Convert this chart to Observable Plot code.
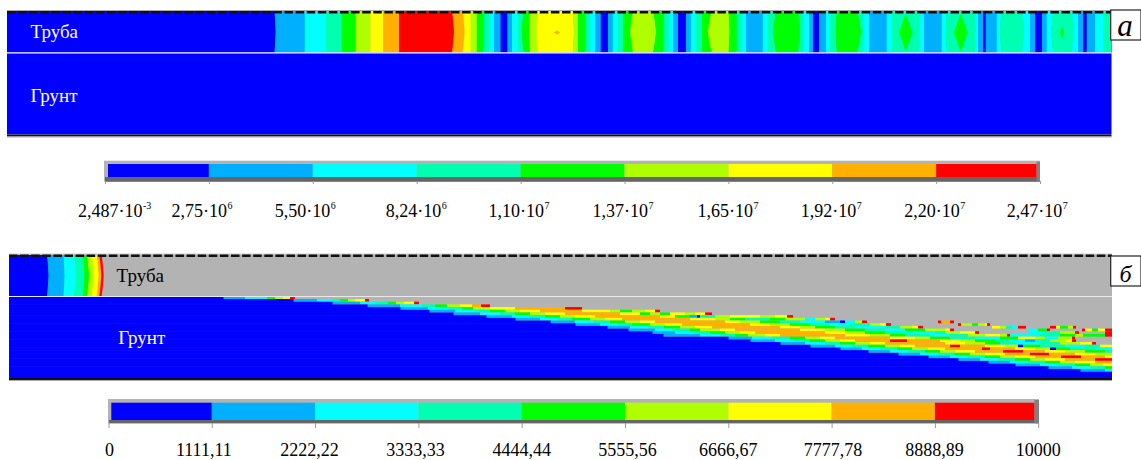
<!DOCTYPE html>
<html><head><meta charset="utf-8">
<style>html,body{margin:0;padding:0;background:#fff}svg{display:block}</style>
<script src="https://cdn.jsdelivr.net/npm/d3@7"></script>
<script src="https://cdn.jsdelivr.net/npm/@observablehq/plot@0.6"></script>
</head><body><div id="chart"></div>
<script>
const levelColors = ["#0000ff","#00b0ff","#00ffff","#00ffb0","#00ff00","#b0ff00","#ffff00","#ffb000","#ff0000"];

// Panel a: stress bands along the pipe
const pipeAEdges = [7,274.5,304.7,325.8,341.8,355.6,370.2,383.3,399,452,462.5,470.5,476.7,483.6,489,494,500.5,507.3,512,518,523.6,530,537.5,572.7,578,585,590,595,600.7,608,612.7,617.7,623,633,653,663,668.7,673,678,686,690.7,696,701.7,711.7,728.5,736.7,741.7,746,762.7,768,776,798,803,809,813,819,826,830,836.7,857,863,869,886.7,892,919,924,941.7,946.7,975,978,983,985.7,996.7,1001.7,1021.7,1030,1035,1042,1046.7,1053,1071.7,1078,1083,1086.7,1095,1103,1111];
const pipeALevels = [0,1,2,3,4,5,6,7,8,7,6,5,4,3,2,1,0,1,2,3,4,5,6,5,4,3,2,1,0,1,2,3,4,5,4,3,2,1,0,1,2,3,4,5,4,3,2,1,2,3,4,3,2,1,0,1,2,3,4,3,2,1,2,3,2,1,2,3,2,1,0,1,2,3,2,1,0,1,2,3,2,1,0,1,2,3];
const pipeABulge = [0,1,0,0,0,0,0,0,0,2,2,0,0,0,0,0,0,0,0,0,-2,-1,-1,1,0,0,0,0,0,0,0,0,0,-3,3,1,0,0,0,0,0,0,0,-4,1,0,0,0,0,0,-3,2,0,0,0,0,0,0,-1,4,0,0,0,0,0,0,0,-1,0,0,0,0,0,-2,2,0,0,0,0,-2,2,0,0,0,0,0,0];
// Peak islands inside panel a: centre, half width, half height, level
const islandCentre = [905.7,960.7,1062,557];
const islandHalfW = [6.7,6.7,2,3];
const islandHalfH = [19,19,6,2];
const islandLevel = [4,4,4,7];

// Panel b: pipe bands at the wave front
const pipeBEdges = [9,47,63.5,74,82.5,87,91.7,96.7,99.3,101.7];
const pipeBLevels = [0,1,2,3,4,5,6,7,8];
const pipeBBulge = [0,1.5,1,1.5,2,2,2,2,2,2];

// Panel b: soil element rows, each as x, level, x, level, ..., end x
const soilRows = [
 [[223,1,245,2,267,4,275,5,283,6,290,8,295]],
 [[293,1,317,2,332,3,340,4,348,5,355,6,365,8,369]],
 [[332,1,360,2,375,3,388,4,396,5,404,6,414,8,419]],
 [[367,1,400,2,422,3,435,4,447,5,460,6,472,7,481,8,490]],
 [[400,1,428,2,449,3,462,4,473,5,490,6,515,7,565,8,582]],
 [[429,1,455,2,475,3,490,4,505,5,520,6,540,7,582,6,610,5,620,4,632,5,645,6,655,8,660]],
 [[453,1,480,2,500,3,515,4,530,5,545,6,565,7,620,6,640,4,650,5,660,4,670,6,685,5,695,6,705,8,712]],
 [[486,1,512,2,530,3,545,4,560,5,575,6,595,7,660,6,675,4,690,1,697,0,700,3,715,5,730,6,760,5,775,6,787,8,793]],
 [[515,1,540,2,558,3,572,4,590,5,605,6,622,7,690,6,715,5,730,4,745,3,770,4,785,5,805,2,815,5,825,6,830,8,835]],
 [[550,1,575,2,593,3,610,4,625,5,640,6,655,7,725,6,740,5,760,4,780,3,800,2,825,1,840,0,845,2,855,5,862,8,867],[938,8,941,7,950,8,954]],
 [[575,1,600,2,618,3,632,4,650,5,665,6,682,7,750,6,770,5,790,4,810,3,830,2,850,3,870,5,880,6,886,8,891],[958,8,961,5,972,4,978,5,985,6,987,8,990]],
 [[607,1,630,2,648,3,664,4,680,5,695,6,712,7,780,6,800,5,815,4,835,3,855,2,885,3,900,5,912,6,918,8,923],[992,6,1000,5,1006,3,1012,2,1018,8,1026],[1050,8,1056,6,1060,4,1068,5,1073,8,1076]],
 [[628,1,655,2,672,3,690,4,700,5,720,6,735,7,800,6,825,5,845,4,865,3,885,2,905,4,925,5,945,6,950,8,954],[1028,2,1038,4,1047,8,1050],[1082,8,1085,6,1092,4,1098,6,1105,8,1112]],
 [[652,1,675,2,695,3,710,4,725,5,740,6,755,7,825,6,845,5,865,4,885,3,905,2,935,3,945,5,960,6,975,8,979],[1030,2,1046,3,1060,5,1075,8,1079],[1105,8,1112]],
 [[663,1,700,2,720,3,735,4,748,5,765,6,780,7,845,6,870,5,890,4,905,3,930,2,950,3,968,5,985,6,1000,5,1007,8,1010,2,1040,3,1060,4,1075,5,1083,4,1105,8,1112]],
 [[728,1,752,2,772,3,790,4,805,5,820,6,835,7,890,6,915,5,930,4,950,3,975,2,1000,4,1018,6,1035,5,1045,2,1058,5,1072,8,1075]],
 [[750,1,775,2,795,3,810,4,825,5,840,6,855,7,890,8,907,7,940,6,960,5,975,4,995,3,1010,2,1025,1,1035,3,1050,5,1065,6,1072,8,1076]],
 [[780,1,805,2,825,3,840,4,855,5,870,6,885,7,945,6,965,5,985,4,1000,3,1015,2,1040,3,1060,5,1080,6,1092,8,1096]],
 [[810,1,835,2,852,3,868,4,885,5,900,6,915,7,950,8,960,7,985,6,1005,5,1018,0,1023,4,1040,3,1065,2,1085,3,1100,6,1112]],
 [[840,1,862,2,880,3,897,4,912,5,928,6,945,7,982,8,990,7,1015,6,1035,5,1050,0,1056,4,1070,3,1095,2,1112]],
 [[868,1,890,2,908,3,925,4,940,5,955,6,975,7,1003,8,1023,7,1045,6,1065,5,1085,4,1105,3,1112]],
 [[898,1,920,2,938,3,955,4,970,5,985,6,1005,7,1030,8,1049,7,1075,6,1095,5,1112]],
 [[928,1,950,2,968,3,985,4,1000,5,1015,6,1035,7,1061,8,1081,7,1105,6,1112]],
 [[958,1,980,2,998,3,1015,4,1030,5,1045,6,1065,7,1095,8,1112]],
 [[988,1,1010,2,1028,3,1045,4,1060,5,1075,6,1095,7,1112]],
 [[1015,1,1040,2,1058,3,1075,4,1090,5,1103,6,1112]],
 [[1048,1,1072,2,1090,3,1105,4,1112]],
 [[1080,1,1105,2,1112]]
];

// Colour bars
const barALabels = ["2,487·10","2,75·10","5,50·10","8,24·10","1,10·10","1,37·10","1,65·10","1,92·10","2,20·10","2,47·10"];
const barAExponents = ["-3","6","6","6","7","7","7","7","7","7"];
const barBLabels = ["0","1111,11","2222,22","3333,33","4444,44","5555,56","6666,67","7777,78","8888,89","10000"];

// Layout
const W = 1141, H = 460;
const barA = {left:105, step:103.9, outer:[104,160.7,1040,181.7], inner:[108,164,1036.5,177], tickY:[181,184], labelY:216};
const barB = {left:108.5, step:103.3, outer:[108,399,1039,423.3], inner:[111.3,402.7,1034.4,420], tickY:[423,428], labelY:455};
const barALabelEnd = [37,17.5,17,24,23,23,24,23.5,23,21.6];
const barBLabelNudge = [0.5,-8.5,-6,-3.5,-0.5,2,-0.5,1,-1,-0.5];
const A = {left:7, right:1111.5, top:11, pipeBottom:52.4, bottom:134.4};
const B = {left:9, right:1112, top:255, pipeBottom:296, bottom:378};
const soilTop = 296.3, rowH = 2.69, seam = 0.5;
const bulgeProfile = [[0,0],[.25,.6],[.5,1],[.75,.6],[1,0]];
const labelFont = "Liberation Serif";

function bandPolys(edges, levels, bulges, y0, y1) {
  const out = [];
  levels.forEach((level, i) => bulgeProfile.forEach(([f, p]) => out.push({
    band:i, level, y:y0 + (y1 - y0) * f,
    x1:edges[i] + bulges[i] * p,
    x2:edges[i + 1] + bulges[i + 1] * p + (i < levels.length - 1 ? seam : 0)
  })));
  return out;
}
function islandPolys(yc) {
  const out = [];
  islandCentre.forEach((c, i) => [-1,0,1].forEach(s => out.push({
    band:i, level:islandLevel[i], y:yc + s * islandHalfH[i],
    x1:c - islandHalfW[i] * (1 - Math.abs(s)), x2:c + islandHalfW[i] * (1 - Math.abs(s))
  })));
  return out;
}
const soilRuns = [], soilBlue = [];
soilRows.forEach((segments, k) => {
  const y1 = soilTop + k * rowH, y2 = y1 + rowH;
  soilBlue.push({x1:B.left, x2:segments[0][0] + seam, y1, y2:y2 + seam});
  segments.forEach(s => {
    for (let i = 0; i + 2 < s.length; i += 2) soilRuns.push({x1:s[i], x2:s[i + 2], y1, y2, level:s[i + 1]});
  });
});
const soilBelow = {x1:B.left, x2:B.right, y1:soilTop + soilRows.length * rowH, y2:B.bottom};

const barRects = (bar) => levelColors.map((_, i) => ({
  level:i,
  x1: i === 0 ? bar.inner[0] : bar.left + i * bar.step,
  x2: i === 8 ? bar.inner[2] : bar.left + (i + 1) * bar.step,
  y1: bar.inner[1], y2: bar.inner[3]
}));
const barTicks = (bar) => d3.range(10).map(i => bar.left + i * bar.step);
const barFrame = (bar) => [
  Plot.rect([0],{x1:bar.outer[0],x2:bar.outer[2],y1:bar.outer[1],y2:bar.outer[3],fill:"#b3b3b3"}),
  Plot.rect([0],{x1:bar.outer[0]+1,x2:bar.outer[2],y1:bar.inner[3],y2:bar.outer[3],fill:"#666666"}),
  Plot.rect([0],{x1:bar.inner[2],x2:bar.outer[2],y1:bar.outer[1]+1,y2:bar.outer[3],fill:"#808080"}),
  Plot.rect(barRects(bar),{x1:"x1",x2:"x2",y1:"y1",y2:"y2",fill:"level"}),
  Plot.ruleX(barTicks(bar),{y1:bar.tickY[0],y2:bar.tickY[1],stroke:"#999",strokeWidth:1})
];
const tagBox = (x1,y1,x2,y2,txt,tx,ty,size) => [
  Plot.rect([0],{x1,x2,y1,y2,fill:"#fff",stroke:"#222",strokeWidth:1.2}),
  Plot.text([txt],{x:tx,y:ty,text:d=>d,fontFamily:labelFont,fontStyle:"italic",fontSize:size,fill:"#000",textAnchor:"middle",lineAnchor:"bottom"})
];
const note = (txt,x,y,fill) => Plot.text([txt],{x,y,text:d=>d,fill,fontFamily:labelFont,fontSize:19,textAnchor:"start",lineAnchor:"bottom"});

const chart = Plot.plot({
  width:W, height:H, margin:0,
  style:{background:"#fff", fontFamily:labelFont},
  x:{domain:[0,W], range:[0,W], axis:null},
  y:{domain:[0,H], range:[0,H], axis:null},
  color:{type:"ordinal", domain:d3.range(9), range:levelColors},
  marks:[
    // panel a
    Plot.rect([0],{x1:A.left,x2:A.right,y1:A.top,y2:A.bottom,fill:levelColors[0]}),
    Plot.areaX(bandPolys(pipeAEdges,pipeALevels,pipeABulge,A.top,A.pipeBottom),{x1:"x1",x2:"x2",y:"y",z:"band",fill:"level"}),
    Plot.areaX(islandPolys(32.5),{x1:"x1",x2:"x2",y:"y",z:"band",fill:"level"}),
    Plot.ruleY([10],{x1:A.left,x2:A.right,stroke:"#aaa",strokeWidth:1}),
    Plot.ruleY([11.8],{x1:A.left,x2:A.right,stroke:"#111",strokeWidth:2.6,strokeDasharray:"8.5 2.6"}),
    Plot.ruleY([A.pipeBottom],{x1:A.left,x2:A.right,stroke:"#fff",strokeWidth:1.2}),
    Plot.ruleY([135],{x1:A.left,x2:A.right,stroke:"#111",strokeWidth:1.8}),
    Plot.ruleY([136.5],{x1:A.left,x2:A.right,stroke:"#aaa",strokeWidth:1}),
    note("Труба",30,37.5,"#fff"),
    note("Грунт",30,101,"#fff"),
    ...tagBox(1110.7,10,1141,40,"а",1124.5,35.7,31),

    // bar a
    ...barFrame(barA),
    Plot.text(barALabels,{x:(d,i)=>barA.left+i*barA.step+barALabelEnd[i],y:barA.labelY,text:d=>d,fontFamily:labelFont,fontSize:18,fill:"#000",textAnchor:"end",lineAnchor:"bottom"}),
    Plot.text(barAExponents,{x:(d,i)=>barA.left+i*barA.step+barALabelEnd[i]+.5,y:barA.labelY-7.5,text:d=>d,fontFamily:labelFont,fontSize:10,fill:"#000",textAnchor:"start",lineAnchor:"bottom"}),

    // panel b
    Plot.rect([0],{x1:B.left,x2:B.right,y1:B.top,y2:B.bottom,fill:"#b3b3b3"}),
    Plot.areaX(bandPolys(pipeBEdges,pipeBLevels,pipeBBulge,B.top,B.pipeBottom),{x1:"x1",x2:"x2",y:"y",z:"band",fill:"level"}),
    Plot.rect(soilRuns,{x1:"x1",x2:"x2",y1:"y1",y2:"y2",fill:"level"}),
    Plot.rect(soilBlue,{x1:"x1",x2:"x2",y1:"y1",y2:"y2",fill:levelColors[0]}),
    Plot.rect([soilBelow],{x1:"x1",x2:"x2",y1:"y1",y2:"y2",fill:levelColors[0]}),
    Plot.ruleY([253.7],{x1:B.left,x2:B.right,stroke:"#aaa",strokeWidth:1}),
    Plot.ruleY([255.3],{x1:B.left,x2:B.right,stroke:"#111",strokeWidth:2.6,strokeDasharray:"8.5 2.6"}),
    Plot.ruleY([B.pipeBottom],{x1:B.left,x2:B.right,stroke:"#e8e8e8",strokeWidth:1.2}),
    Plot.ruleY([378.5],{x1:B.left,x2:B.right,stroke:"#111",strokeWidth:1.8}),
    Plot.ruleY([380],{x1:B.left,x2:B.right,stroke:"#aaa",strokeWidth:1}),
    note("Труба",116,281.7,"#000"),
    note("Грунт",117.7,343,"#fff"),
    ...tagBox(1110.7,256,1141,286,"б",1125,281,24),

    // bar b
    ...barFrame(barB),
    Plot.text(barBLabels,{x:(d,i)=>barB.left+i*barB.step+barBLabelNudge[i],y:barB.labelY,text:d=>d,fontFamily:labelFont,fontSize:18,fill:"#000",textAnchor:"middle",lineAnchor:"bottom"})
  ]
});
document.getElementById("chart").append(chart);
</script></body></html>
